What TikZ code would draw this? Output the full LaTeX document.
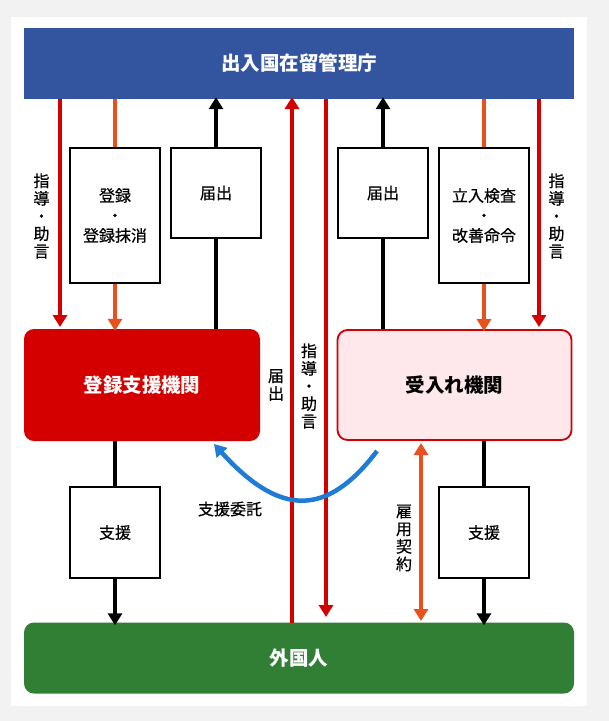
\documentclass[tikz,border=0pt]{standalone}
\usepackage{fontspec}
\setmainfont{Noto Sans CJK JP}
\newfontfamily\jpmed[FakeBold=0.5]{Noto Sans CJK JP}
\usetikzlibrary{arrows.meta}
\definecolor{hdrblue}{RGB}{51,85,160}
\definecolor{regred}{RGB}{212,0,0}
\definecolor{orng}{RGB}{232,80,30}
\definecolor{grn}{RGB}{49,127,53}
\definecolor{curveblue}{RGB}{30,123,214}
\definecolor{pinkfill}{RGB}{255,232,236}
\definecolor{bggray}{RGB}{242,242,242}
\tikzset{
  entity/.style={minimum width=550pt, minimum height=71pt, inner sep=0pt, font=\fontsize{19.5}{22}\selectfont\bfseries, text=white},
  org/.style={minimum width=236pt, minimum height=112pt, inner sep=0pt, rounded corners=10pt, font=\fontsize{19.5}{22}\selectfont\bfseries},
  actbox/.style={draw=black, line width=2pt, fill=white, minimum width=90pt, inner sep=0pt, align=center, font=\jpmed\fontsize{16}{20}\selectfont},
  vlabel/.style={align=center, inner sep=0pt, font=\jpmed\fontsize{16}{17.6}\selectfont},
  hlabel/.style={inner sep=0pt, font=\jpmed\fontsize{16}{18}\selectfont},
  tipA/.style={-{Triangle[length=12pt,width=14pt]}},
  redln/.style={draw=regred, line width=4.5pt},
  orln/.style={draw=orng, line width=4.5pt},
  blkln/.style={draw=black, line width=4.5pt},
}
\begin{document}
\begin{tikzpicture}[x=1pt,y=-1pt]
\fill[bggray] (0,0) rectangle (609,721);
\fill[white] (11,17) rectangle (587,706);
\useasboundingbox (0,0) rectangle (609,721);

% main entities
\node[entity, fill=hdrblue] (hdr) at (299,63.5) {出入国在留管理庁};
\node[org, fill=regred, text=white] (reg) at (142,385) {登録支援機関};
\node[org, fill=pinkfill, draw=regred, line width=1.8pt, minimum width=234pt, minimum height=110pt, text=black] (acc) at (454.5,385) {受入れ機関};
\node[entity, fill=grn, rounded corners=10pt] (fgn) at (299,658) {外国人};

% intermediate boxes
\node[actbox, minimum height=135pt] (b1) at (115,215.5) {登録\\・\\登録抹消};
\node[actbox, minimum height=90pt] (b2) at (216,193) {届出};
\node[actbox, minimum height=90pt] (b3) at (383,193) {届出};
\node[actbox, minimum height=135pt] (b4) at (484,215.5) {立入検査\\・\\改善命令};
\node[actbox, minimum height=91pt] (b5) at (115,532.5) {支援};
\node[actbox, minimum height=91pt] (b6) at (484,532.5) {支援};

% coordinates for arrow ends
\coordinate (h60) at (60,99);   \coordinate (r60) at (60,327);
\coordinate (h292) at (292,99); \coordinate (f292) at (292,623);
\coordinate (h326) at (326,99); \coordinate (f326) at (326,617);
\coordinate (h539) at (539,99); \coordinate (a539) at (539,327);
\coordinate (a421) at (421,443); \coordinate (f421) at (421,621);

% top left arrows
\draw[redln, tipA, fill=regred] (h60) -- (r60);
\draw[orln] (hdr.south -| b1.north) -- (b1.north);
\draw[orln, tipA, fill=orng] (b1.south) -- ([yshift=-2pt]reg.north -| b1.south);
\draw[blkln] (reg.north -| b2.south) -- (b2.south);
\draw[blkln, tipA] (b2.north) -- ([yshift=2pt]hdr.south -| b2.north);

% center arrows
\draw[redln, tipA, fill=regred] (f292) -- ([yshift=2pt]h292);
\draw[redln, tipA, fill=regred] (h326) -- (f326);

% top right arrows
\draw[blkln] (acc.north -| b3.south) -- (b3.south);
\draw[blkln, tipA] (b3.north) -- ([yshift=2pt]hdr.south -| b3.north);
\draw[orln] (hdr.south -| b4.north) -- (b4.north);
\draw[orln, tipA, fill=orng] (b4.south) -- ([yshift=-2pt]acc.north -| b4.south);
\draw[redln, tipA, fill=regred] (h539) -- (a539);

% bottom arrows
\draw[blkln] (reg.south -| b5.north) -- (b5.north);
\draw[blkln, tipA] (b5.south) -- ([yshift=-3pt]fgn.north -| b5.south);
\draw[blkln] (acc.south -| b6.north) -- (b6.north);
\draw[blkln, tipA] (b6.south) -- ([yshift=-3pt]fgn.north -| b6.south);
\draw[orln, {Triangle[length=12pt,width=14pt]}-{Triangle[length=12pt,width=14pt]}] (a421) -- (f421);

% support delegation curve
\coordinate (cs) at (377,451);
\coordinate (ce) at (214,444);
\draw[draw=curveblue, line width=4.5pt, tipA] (cs) .. controls (327,517) and (280,517) .. (ce);

% labels
\node[vlabel] (l1) at (41.5,216) {指\\導\\・\\助\\言};
\node[vlabel] (l2) at (556.5,216) {指\\導\\・\\助\\言};
\node[vlabel] (l3) at (309,386) {指\\導\\・\\助\\言};
\node[vlabel] (l4) at (276,385) {届\\出};
\node[vlabel] (l5) at (404,538) {雇\\用\\契\\約};
\node[hlabel] (l6) at (230,509) {支援委託};
\end{tikzpicture}
\end{document}
